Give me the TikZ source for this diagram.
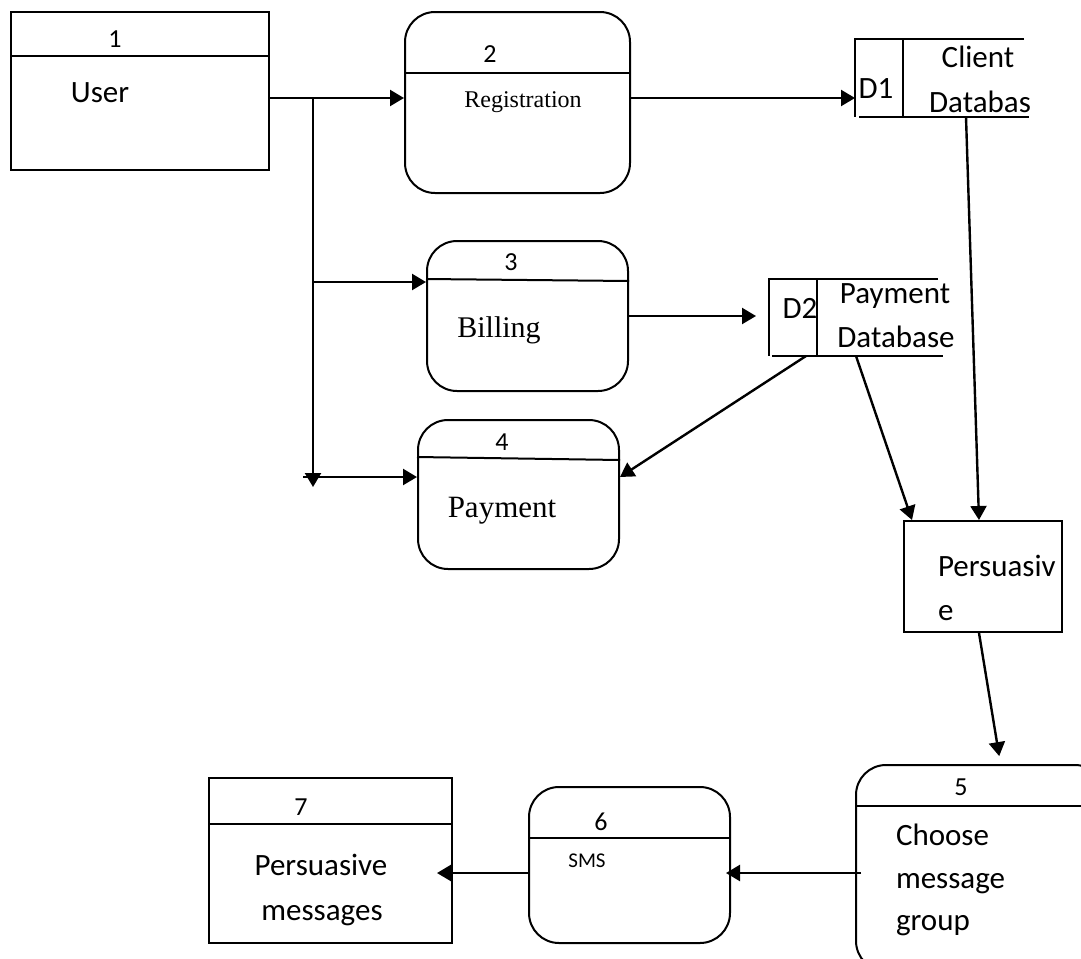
\documentclass[tikz,border=0pt]{standalone}
\usepackage{fontspec}
\setmainfont{Carlito}
\newfontfamily\timesfont{Liberation Serif}
\usetikzlibrary{arrows.meta}

\begin{document}
\begin{tikzpicture}[x=0.5pt,y=-0.5pt,>={Triangle[length=7pt,width=8pt]},line width=1pt,
	proc/.style={draw=black,rectangle,rounded corners=15pt,inner sep=0pt},
	ent/.style={draw=black,rectangle,inner sep=0pt},
	store/.style={rectangle,inner sep=0pt},
	num/.style={anchor=base,inner sep=0pt,font=\fontsize{13}{15}\selectfont},
	lbl/.style={anchor=base,inner sep=0pt,font=\fontsize{15.5}{19}\selectfont},
	serif/.style={anchor=base,inner sep=0pt,font=\timesfont\fontsize{#1}{#1}\selectfont}]
	\clip (0,0) rectangle (1081,958);

	\node[ent]		(user)		at (140,91)		[minimum width=129pt,minimum height=79pt]	{};
	\node[proc]		(reg)		at (517.5,102.5)	[minimum width=112.5pt,minimum height=90.5pt]	{};
	\node[proc]		(bill)		at (527.5,316)		[minimum width=100.5pt,minimum height=75pt]	{};
	\node[proc]		(pay)		at (518.5,494.5)	[minimum width=100.5pt,minimum height=74.5pt]	{};
	\node[store]	(d1)		at (942,78)		[minimum width=86pt,minimum height=38pt]	{};
	\node[store]	(d2)		at (856,317.5)		[minimum width=86pt,minimum height=37.5pt]	{};
	\node[ent]		(pers)		at (983,576.5)		[minimum width=79pt,minimum height=55.5pt]	{};
	\node[proc]		(choose)	at (980.5,868)		[minimum width=124.5pt,minimum height=103pt]	{};
	\node[proc]		(sms)		at (629.5,865)		[minimum width=100.5pt,minimum height=78pt]	{};
	\node[ent]		(msgs)		at (330.5,860.5)	[minimum width=121.5pt,minimum height=82.5pt]	{};

	\draw ([yshift=-22.5pt]user.north west) -- ([yshift=-22.5pt]user.north east);
	\draw ([yshift=-31pt]reg.north west) -- ([yshift=-31pt]reg.north east);
	\draw ([yshift=-19.5pt]bill.north west) -- ([yshift=-20.5pt]bill.north east);
	\draw ([yshift=-19pt]pay.north west) -- ([yshift=-20.5pt]pay.north east);
	\draw ([yshift=-21pt]choose.north west) -- ([yshift=-21pt]choose.north east);
	\draw ([yshift=-26pt]sms.north west) -- ([yshift=-26pt]sms.north east);
	\draw ([yshift=-23.5pt]msgs.north west) -- ([yshift=-23.5pt]msgs.north east);

	\draw ([xshift=-2.5pt]d1.north east) -- (d1.north west) -- (d1.south west);
	\draw ([xshift=2pt]d1.south west) -- (d1.south east);
	\draw ([xshift=24pt]d1.north west) -- ([xshift=24pt]d1.south west);
	\draw ([xshift=-2.5pt]d2.north east) -- (d2.north west) -- (d2.south west);
	\draw ([xshift=1.5pt]d2.south west) -- (d2.south east);
	\draw ([xshift=24pt]d2.north west) -- ([xshift=24pt]d2.south west);

	\node[num]		(n1)	at (115,47.5)	{1};
	\node[lbl]		(t1)	at (100,102.5)	{User};
	\node[num]		(n2)	at (490,62)		{2};
	\node[serif=12]	(t2)	at (523,107)	{Registration};
	\node[num]		(n3)	at (511,270)	{3};
	\node[serif=15]	(t3)	at (499,337)	{Billing};
	\node[num]		(n4)	at (502,450)	{4};
	\node[serif=15.5]	(t4)	at (502,517)	{Payment};
	\node[lbl]		(d1id)	at (876,98)		{D1};
	\node[lbl]		(d1a)	at (978,67)		{Client};
	\node[lbl]		(d1b)	at (980,112)	{Databas};
	\node[lbl]		(d2id)	at (800,318)	{D2};
	\node[lbl]		(d2a)	at (895,303)	{Payment};
	\node[lbl]		(d2b)	at (896,347)	{Database};
	\node[lbl,anchor=base west]	(pa)	at (937,576)	{Persuasiv};
	\node[lbl,anchor=base west]	(pb)	at (937,620)	{e};
	\node[num]		(n5)	at (961,795)	{5};
	\node[lbl,anchor=base west]	(t5a)	at (895,845)	{Choose};
	\node[lbl,anchor=base west]	(t5b)	at (895,888)	{message};
	\node[lbl,anchor=base west]	(t5c)	at (895,930)	{group};
	\node[num]		(n6)	at (601,830)	{6};
	\node[anchor=base,inner sep=0pt,font=\fontsize{10.5}{12}\selectfont]	(t6)	at (587,867)	{SMS};
	\node[num]		(n7)	at (301,815)	{7};
	\node[lbl]		(t7a)	at (321,875)	{Persuasive};
	\node[lbl]		(t7b)	at (322,920)	{messages};

	\coordinate (br)	at (313,98);
	\coordinate (tend)	at (313,487);
	\coordinate (b3)	at (313,282);
	\coordinate (b4)	at (303,477);
	\coordinate (r5)	at (0,873);

	\path[->,line width=1.2pt]
		(user.east|-br)	edge	(reg.west|-br)
		(br)			edge	(tend)
		(b3)			edge	(bill.west|-b3)
		(b4)			edge	(pay.west|-b4)
		(reg.east|-br)	edge	(d1.west|-br)
		(bill.east)		edge	[shorten >=6.5pt]	(d2.west|-bill.east)
		([xshift=18.5pt]d2.south west)	edge	(pay.east|-b4)
		(d2.south)		edge	([xshift=4.5pt]pers.north west)
		([xshift=12pt]d1.south)	edge	([xshift=-2pt]pers.north)
		([xshift=-2pt]pers.south)	edge	[shorten >=4pt]	([xshift=10pt]choose.north)
		(choose.west|-r5)	edge	[shorten <=-3pt,shorten >=-2.5pt]	(sms.east|-r5)
		(sms.west|-r5)	edge	[shorten >=-8pt]	(msgs.east|-r5)
	;
\end{tikzpicture}
\end{document}
